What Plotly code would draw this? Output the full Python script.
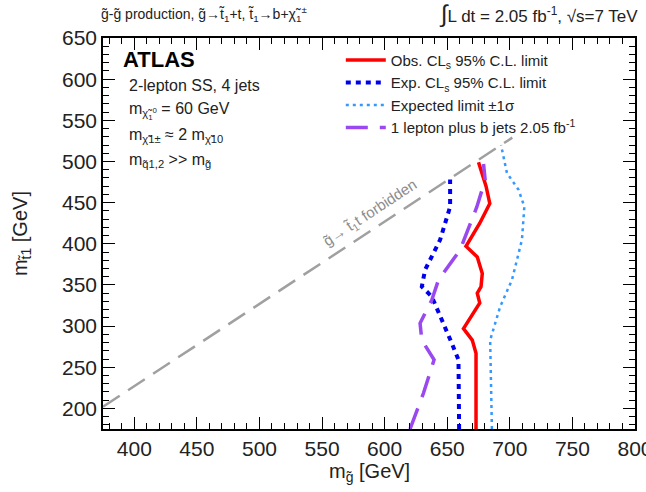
import plotly.graph_objects as go

# ---- data ----
obs_x = [673, 673, 670, 663, 676, 674, 677, 678, 674, 665, 676, 684, 681, 675]
obs_y = [175, 267, 283, 297, 328, 340, 348, 364, 384, 397, 425, 449, 470, 499]

exp_x = [659.5, 659, 653.7, 645.7, 637.7, 629.7, 632.3, 644.3, 652.3, 652.3]
exp_y = [175, 259, 279, 307.5, 335.8, 348, 368.3, 404.8, 445, 478]

sig_x = [685.7, 684.3, 692.3, 701.7, 709.7, 711.6, 707, 697.7, 693]
sig_y = [175, 283, 323.7, 356, 404.8, 445, 465.6, 486, 520]

lep_x = [620.3, 631, 639.5, 629.7, 628.3, 637.7, 643, 660.3, 673.7, 680.3, 679]
lep_y = [175, 218.4, 259, 283, 303.5, 331.8, 356, 392.6, 445, 477.7, 497]

forb_x = [375, 702]
m_top = 173
forb_y = [v - m_top for v in forb_x]

x_range = [375, 800.01]
y_range = [175, 650.01]
x_ticks = [400, 450, 500, 550, 600, 650, 700, 750, 800]
y_ticks = [200, 250, 300, 350, 400, 450, 500, 550, 600, 650]

FONT = "Liberation Sans, Arial, sans-serif"

fig = go.Figure()

fig.add_trace(go.Scatter(x=forb_x, y=forb_y, mode="lines", showlegend=False,
                         line=dict(color="#a0a0a0", width=2.5, dash="20px,10px")))
fig.add_trace(go.Scatter(x=obs_x, y=obs_y, mode="lines",
                         name="Obs. CL<sub>s</sub> 95% C.L. limit",
                         line=dict(color="#ff0000", width=3.5)))
fig.add_trace(go.Scatter(x=exp_x, y=exp_y, mode="lines",
                         name="Exp. CL<sub>s</sub> 95% C.L. limit",
                         line=dict(color="#0000ee", width=4, dash="5px,5px")))
fig.add_trace(go.Scatter(x=sig_x, y=sig_y, mode="lines",
                         name="Expected limit \u00b11\u03c3",
                         line=dict(color="#3399ff", width=2.5, dash="3px,4px")))
fig.add_trace(go.Scatter(x=lep_x, y=lep_y, mode="lines",
                         name="1 lepton plus b jets 2.05 fb<sup>-1</sup>",
                         line=dict(color="#9a48f0", width=3.5, dash="22px,12px")))

axis_common = dict(
    showline=True, linecolor="black", linewidth=1.5, mirror="allticks",
    ticks="inside", ticklen=12, tickwidth=1.2, tickcolor="black",
    showgrid=False, zeroline=False, ticklabeloverflow="allow", automargin=False,
    tickfont=dict(family=FONT, size=21, color="#222"),
    minor=dict(ticks="inside", ticklen=6, tickwidth=1, tickcolor="black", dtick=10, showgrid=False),
)

fig.update_xaxes(range=x_range, tickvals=x_ticks, ticktext=[str(v) for v in x_ticks], **axis_common)
fig.update_yaxes(range=y_range, tickvals=y_ticks, ticktext=[str(v) for v in y_ticks], **axis_common)

ann = [
    dict(x=0.5, y=-0.112, xref="paper", yref="paper", xanchor="center", yanchor="middle",
         text="m<sub>g\u0303</sub> [GeV]", font=dict(family=FONT, size=20, color="#222"), showarrow=False),
    dict(x=-0.153, y=0.5, xref="paper", yref="paper", xanchor="center", yanchor="middle", textangle=-90,
         text="m<sub>t\u03031</sub> [GeV]", font=dict(family=FONT, size=20, color="#222"), showarrow=False),
    dict(x=-0.007, y=1.062, xref="paper", yref="paper", xanchor="left", yanchor="middle",
         text="g\u0303-g\u0303 production, g\u0303\u2192t\u0303<sub>1</sub>+t, t\u0303<sub>1</sub>\u2192b+\u03c7\u0303<sub>1</sub><sup>\u00b1</sup>",
         font=dict(family=FONT, size=14, color="#222"), showarrow=False),
    dict(x=1.01, y=1.062, xref="paper", yref="paper", xanchor="right", yanchor="middle",
         text="<span style='font-size:24px'>\u222b</span>L dt = 2.05 fb<sup>-1</sup>, \u221as=7 TeV",
         font=dict(family=FONT, size=17, color="#222"), showarrow=False),
    dict(x=389.5, y=624, xref="x", yref="y", xanchor="left", yanchor="middle",
         text="<b>ATLAS</b>", font=dict(family=FONT, size=22, color="black"), showarrow=False),
    dict(x=394, y=592, xref="x", yref="y", xanchor="left", yanchor="middle",
         text="2-lepton SS, 4 jets", font=dict(family=FONT, size=16, color="#222"), showarrow=False),
    dict(x=394, y=561, xref="x", yref="y", xanchor="left", yanchor="middle",
         text="m<sub>\u03c7\u0303<sub>1</sub><sup>0</sup></sub> = 60 GeV", font=dict(family=FONT, size=16, color="#222"), showarrow=False),
    dict(x=394, y=531, xref="x", yref="y", xanchor="left", yanchor="middle",
         text="m<sub>\u03c7\u03031\u00b1</sub> \u2248 2 m<sub>\u03c7\u030310</sub>", font=dict(family=FONT, size=16, color="#222"), showarrow=False),
    dict(x=394, y=501, xref="x", yref="y", xanchor="left", yanchor="middle",
         text="m<sub>q\u03031,2</sub> >> m<sub>g\u0303</sub>", font=dict(family=FONT, size=16, color="#222"), showarrow=False),
    dict(x=588, y=437, xref="x", yref="y", xanchor="center", yanchor="middle", textangle=-33.4,
         text="g\u0303\u2192 t\u0303<sub>1</sub>t forbidden", font=dict(family=FONT, size=15, color="#8c8c8c"), showarrow=False),
]

fig.update_layout(
    width=646, height=492,
    margin=dict(l=103, r=11, t=38, b=63, autoexpand=False),
    paper_bgcolor="white", plot_bgcolor="white",
    font=dict(family=FONT, color="#222"),
    annotations=ann,
    legend=dict(x=0.447, y=0.985, xanchor="left", yanchor="top",
                bgcolor="rgba(255,255,255,0)", font=dict(family=FONT, size=15, color="#222"),
                tracegroupgap=0, itemwidth=40),
)

fig.write_html("out.html")
